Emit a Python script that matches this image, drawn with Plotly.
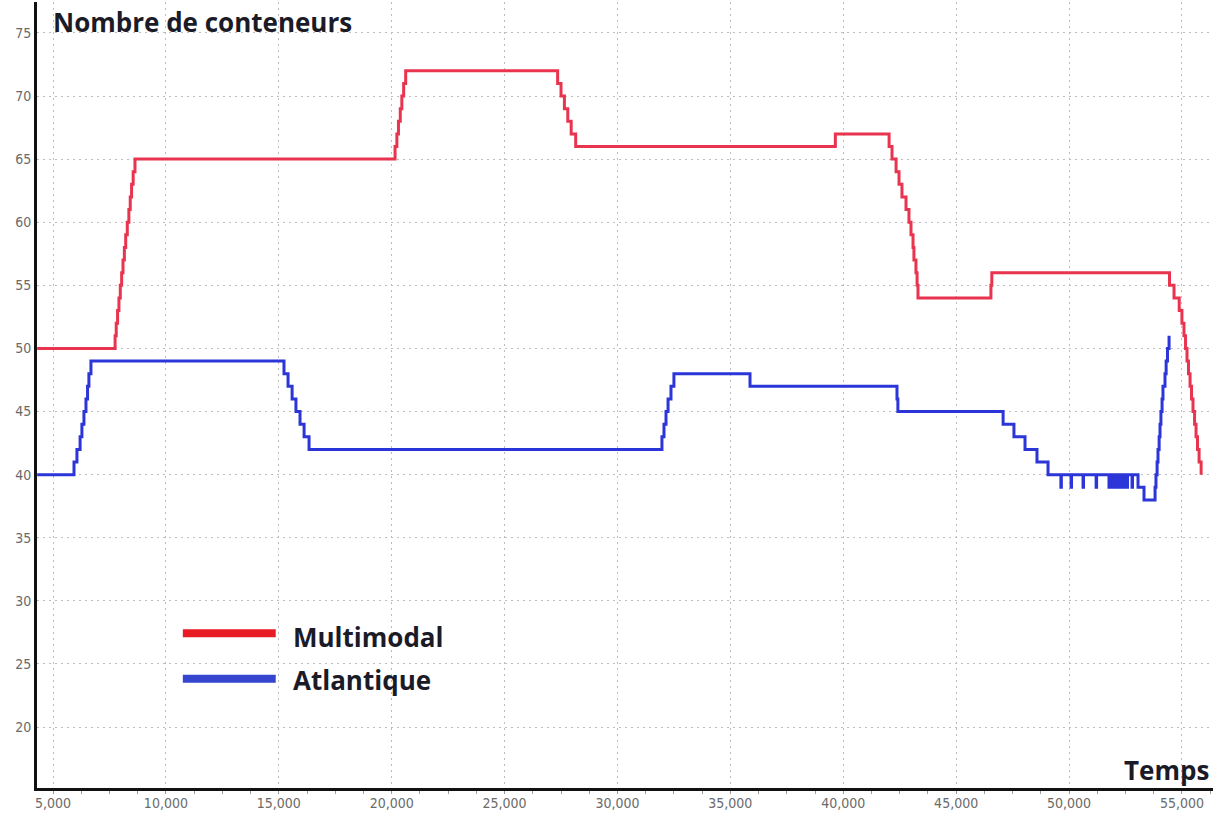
import plotly.graph_objects as go

# Container count over time for the two services (step series, value held until next change)
multimodal_t = [4300, 7750, 7800, 7860, 7920, 7980, 8040, 8100, 8160, 8220, 8290, 8360, 8420, 8480, 8550, 8630,
                20150, 20230, 20300, 20380, 20450, 20530, 20620,
                27350, 27500, 27650, 27800, 27950, 28150,
                39650,
                42030, 42160, 42340, 42470, 42600, 42780, 42910, 43000, 43090, 43130, 43220, 43270, 43310,
                46540, 46580,
                54450, 54650, 54880, 55000, 55090, 55160, 55225, 55290, 55360, 55425, 55490, 55560, 55625,
                55690, 55760, 55850]
multimodal_n = [50, 51, 52, 53, 54, 55, 56, 57, 58, 59, 60, 61, 62, 63, 64, 65,
                66, 67, 68, 69, 70, 71, 72,
                71, 70, 69, 68, 67, 66,
                67,
                66, 65, 64, 63, 62, 61, 60, 59, 58, 57, 56, 55, 54,
                55, 56,
                55, 54, 53, 52, 51, 50, 49, 48, 47, 46, 45, 44, 43,
                42, 41, 40]

atlantique_t = [4300, 5930, 6060, 6200, 6280, 6370, 6460, 6530, 6590, 6680,
                15230, 15410, 15590, 15760, 15940, 16120, 16340,
                31970, 32060, 32150, 32240, 32370, 32500,
                35870,
                42380, 42420,
                47080, 47560, 48050, 48580, 49070,
                49640, 49660, 50090, 50110, 50620, 50640, 51200, 51220,
                51770, 51790, 51900, 51920, 52040, 52060, 52170, 52190,
                52300, 52320, 52440, 52460, 52570, 52590, 52790, 52810,
                53055, 53320,
                53810, 53850, 53900, 53940, 53990, 54030, 54070, 54120, 54160, 54250, 54300, 54360, 54430]
atlantique_n = [40, 41, 42, 43, 44, 45, 46, 47, 48, 49,
                48, 47, 46, 45, 44, 43, 42,
                43, 44, 45, 46, 47, 48,
                47,
                46, 45,
                44, 43, 42, 41, 40,
                39, 40, 39, 40, 39, 40, 39, 40,
                39, 40, 39, 40, 39, 40, 39, 40,
                39, 40, 39, 40, 39, 40, 39, 40,
                39, 38,
                39, 40, 41, 42, 43, 44, 45, 46, 47, 48, 49, 50, 51]

x_ticks = [5000, 10000, 15000, 20000, 25000, 30000, 35000, 40000, 45000, 50000, 55000]
y_ticks = [20, 25, 30, 35, 40, 45, 50, 55, 60, 65, 70, 75]

RED = "#e8344e"
BLUE = "#2b35d8"
TICK_FONT = dict(family="Liberation Sans Narrow, DejaVu Sans Condensed, Arial Narrow, sans-serif",
                 size=14, color="#6a6a6a")
BOLD_FONT = "Open Sans, Noto Sans, sans-serif"
LABEL_SIZE = 26

fig = go.Figure()
fig.add_trace(go.Scatter(x=multimodal_t, y=multimodal_n, mode="lines", name="Multimodal",
                         line=dict(color=RED, width=3, shape="hv"), hoverinfo="skip"))
fig.add_trace(go.Scatter(x=atlantique_t, y=atlantique_n, mode="lines", name="Atlantique",
                         line=dict(color=BLUE, width=3, shape="hv"), hoverinfo="skip"))

fig.update_layout(
    width=1221, height=832,
    margin=dict(l=37, r=8, t=2, b=44),
    paper_bgcolor="white", plot_bgcolor="white",
    showlegend=False,
    xaxis=dict(range=[4291, 56376], tickvals=x_ticks, tickformat=",d",
               showline=True, linecolor="#111111", linewidth=3,
               showgrid=True, gridcolor="#bdbdbd", gridwidth=1, griddash="2px,4px",
               zeroline=False, ticks="", tickfont=TICK_FONT,
               minor=dict(dtick=1250, tick0=5000, ticks="outside", ticklen=3,
                          tickcolor="#9a9a9a", showgrid=False)),
    yaxis=dict(range=[15.17, 77.45], tickvals=y_ticks,
               showline=True, linecolor="#111111", linewidth=3,
               showgrid=True, gridcolor="#bdbdbd", gridwidth=1, griddash="2px,4px",
               zeroline=False, ticks="", tickfont=TICK_FONT),
)

# Axis titles placed inside the plotting area
fig.add_annotation(text="<b>Nombre de conteneurs</b>", xref="paper", yref="paper",
                   x=0.012, y=0.974, xanchor="left", yanchor="middle", showarrow=False,
                   font=dict(family=BOLD_FONT, size=LABEL_SIZE, color="#1b1b28"))
fig.add_annotation(text="<b>Temps</b>", xref="paper", yref="paper",
                   x=0.998, y=0.023, xanchor="right", yanchor="middle", showarrow=False,
                   font=dict(family=BOLD_FONT, size=LABEL_SIZE, color="#1b1b28"))

# Hand-placed legend: (label, swatch colour, swatch y, text y)
legend_items = [("Multimodal", "#e81c24", 0.197, 0.192), ("Atlantique", "#3545d0", 0.139, 0.137)]
for label, color, swatch_y, text_y in legend_items:
    fig.add_shape(type="line", xref="paper", yref="paper",
                  x0=0.124, x1=0.203, y0=swatch_y, y1=swatch_y,
                  line=dict(color=color, width=8))
    fig.add_annotation(text="<b>" + label + "</b>", xref="paper", yref="paper",
                       x=0.216, y=text_y, xanchor="left", yanchor="middle", showarrow=False,
                       font=dict(family=BOLD_FONT, size=LABEL_SIZE, color="#1b1b28"))

fig.write_html("out.html")
